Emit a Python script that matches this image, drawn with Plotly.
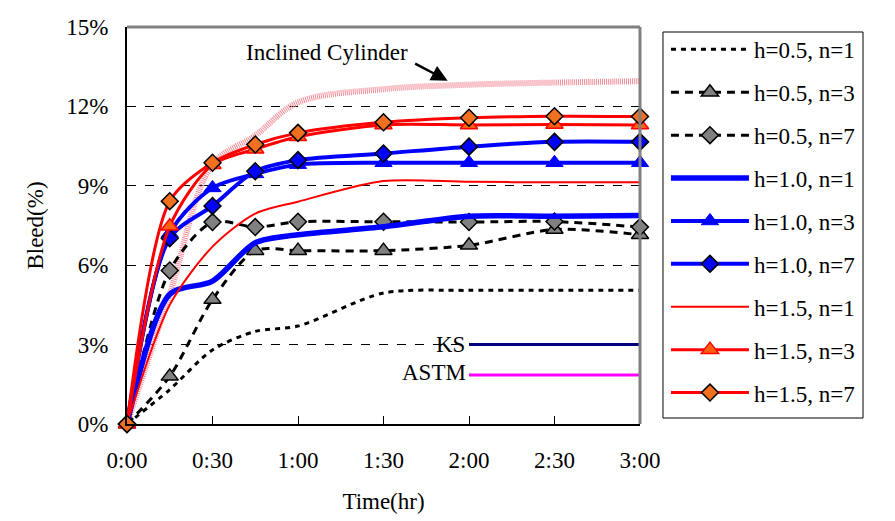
import plotly.graph_objects as go

# ---------------- data ----------------
times = [0, 0.25, 0.5, 0.75, 1.0, 1.5, 2.0, 2.5, 3.0]
tick_vals = [0, 0.5, 1.0, 1.5, 2.0, 2.5, 3.0]
tick_text = ["0:00", "0:30", "1:00", "1:30", "2:00", "2:30", "3:00"]
y_ticks = [0, 3, 6, 9, 12, 15]
y_tick_text = ["0%", "3%", "6%", "9%", "12%", "15%"]

h05_n1 = [0, 1.3, 2.8, 3.5, 3.7, 4.95, 5.05, 5.05, 5.05]
h05_n3 = [0, 1.8, 4.7, 6.55, 6.55, 6.55, 6.75, 7.35, 7.15]
h05_n7 = [0, 5.8, 7.63, 7.44, 7.64, 7.64, 7.63, 7.65, 7.44]
h10_n1 = [0, 4.9, 5.4, 6.85, 7.15, 7.45, 7.85, 7.85, 7.88]
h10_n3 = [0, 7.2, 8.92, 9.45, 9.8, 9.87, 9.87, 9.87, 9.87]
h10_n7 = [0, 7.02, 8.24, 9.55, 9.97, 10.22, 10.48, 10.66, 10.66]
h15_n1 = [0, 4.5, 6.7, 7.95, 8.4, 9.18, 9.15, 9.13, 9.13]
h15_n3 = [0, 7.47, 9.8, 10.38, 10.85, 11.3, 11.3, 11.32, 11.3]
h15_n7 = [0, 8.42, 9.87, 10.56, 11.0, 11.4, 11.57, 11.63, 11.62]
cylinder = [0, 4.9, 9.8, 10.9, 12.15, 12.65, 12.82, 12.9, 12.95]

ks_x = [2.0, 3.0]
ks_y = [3.0, 3.0]
astm_x = [2.0, 3.0]
astm_y = [1.85, 1.85]

FONT = "Liberation Serif, Times New Roman, serif"

fig = go.Figure()

# Inclined cylinder (hatched pink)
fig.add_trace(go.Scatter(x=times, y=cylinder, mode="lines", showlegend=False,
                         line=dict(color="#F08C98", width=6, dash="1px,1px", shape="spline", smoothing=1.0)))
fig.add_trace(go.Scatter(x=ks_x, y=ks_y, mode="lines", showlegend=False,
                         line=dict(color="#000080", width=3)))
fig.add_trace(go.Scatter(x=astm_x, y=astm_y, mode="lines", showlegend=False,
                         line=dict(color="#FF00FF", width=3)))

series = [
    ("h=0.5, n=1", h05_n1, dict(color="black", width=3, dash="5px,5px"), None),
    ("h=0.5, n=3", h05_n3, dict(color="black", width=3, dash="8px,6px"),
     dict(symbol="triangle-up", size=15, color="#808080", line=dict(color="black", width=1.5))),
    ("h=0.5, n=7", h05_n7, dict(color="black", width=3, dash="8px,6px"),
     dict(symbol="diamond", size=13, color="#808080", line=dict(color="black", width=1.5))),
    ("h=1.0, n=1", h10_n1, dict(color="#0000FF", width=5.5), None),
    ("h=1.0, n=3", h10_n3, dict(color="#0000FF", width=4),
     dict(symbol="triangle-up", size=15, color="#0000FF", line=dict(color="#0000FF", width=1))),
    ("h=1.0, n=7", h10_n7, dict(color="#0000FF", width=4),
     dict(symbol="diamond", size=13, color="#0000FF", line=dict(color="black", width=1.5))),
    ("h=1.5, n=1", h15_n1, dict(color="#FF0000", width=2), None),
    ("h=1.5, n=3", h15_n3, dict(color="#FF0000", width=3),
     dict(symbol="triangle-up", size=15, color="#FF6010", line=dict(color="#FF0000", width=1.5))),
    ("h=1.5, n=7", h15_n7, dict(color="#FF0000", width=3),
     dict(symbol="diamond", size=13, color="#F07020", line=dict(color="black", width=1.5))),
]

for i, (name, ys, line, marker) in enumerate(series):
    line = dict(line, shape="spline", smoothing=0.8)
    if marker is None:
        fig.add_trace(go.Scatter(x=times, y=ys, mode="lines", name=name, line=line,
                                 legendgroup="g%d" % i, cliponaxis=False))
    else:
        fig.add_trace(go.Scatter(x=times, y=ys, mode="lines+markers", name=name, line=line,
                                 marker=marker, legendgroup="g%d" % i, cliponaxis=False))

fig.update_layout(
    width=887, height=513,
    margin=dict(l=119, r=255, t=19, b=97, autoexpand=False),
    paper_bgcolor="white", plot_bgcolor="white",
    font=dict(family=FONT, size=23, color="black"),
    showlegend=True,
    legend=dict(x=1.0506, xanchor="left", y=0.9977, yanchor="top",
                borderwidth=0, bgcolor="rgba(0,0,0,0)",
                font=dict(family=FONT, size=23, color="black"),
                itemwidth=78, tracegroupgap=10, traceorder="grouped"),
    xaxis=dict(range=[0, 3], tickvals=tick_vals, ticktext=tick_text,
               showline=True, linecolor="black", linewidth=2,
               ticks="inside", ticklen=8, tickcolor="black", tickwidth=1,
               showgrid=False, zeroline=False, ticklabelstandoff=14,
               title=dict(text="Time(hr)", standoff=21, font=dict(family=FONT, size=23))),
    yaxis=dict(range=[0, 15], tickvals=y_ticks, ticktext=y_tick_text,
               showline=True, linecolor="black", linewidth=2,
               ticks="", showgrid=True, gridcolor="black", gridwidth=1, griddash="dash",
               zeroline=False, ticklabelstandoff=12,
               title=dict(text="Bleed(%)", standoff=16, font=dict(family=FONT, size=23))),
    shapes=[
        dict(type="line", xref="paper", yref="paper", x0=0, x1=1, y0=1, y1=1,
             line=dict(color="#808080", width=3)),
        dict(type="line", xref="paper", yref="paper", x0=1, x1=1, y0=0, y1=1,
             line=dict(color="#808080", width=3)),
        # legend frame
        dict(type="rect", xref="paper", yref="paper", x0=1.0448, x1=1.4347, y0=0.0151, y1=0.9874,
             line=dict(color="black", width=1), fillcolor="rgba(0,0,0,0)"),
    ],
    annotations=[
        dict(x=1.17, y=14.03, xref="x", yref="y", text="Inclined Cylinder", showarrow=False,
             font=dict(family=FONT, size=23, color="black")),
        dict(x=1.875, y=12.97, xref="x", yref="y", text="", showarrow=True,
             ax=-34, ay=-18, arrowhead=2, arrowsize=1.3, arrowwidth=2.5, arrowcolor="black"),
        dict(x=2.0, y=3.0, xref="x", yref="y", text="KS", showarrow=False,
             xanchor="right", yanchor="middle", xshift=-2,
             font=dict(family=FONT, size=23, color="black")),
        dict(x=2.0, y=1.95, xref="x", yref="y", text="ASTM", showarrow=False,
             xanchor="right", yanchor="middle", xshift=-1,
             font=dict(family=FONT, size=23, color="black")),
    ],
)

fig.write_html("out.html")
